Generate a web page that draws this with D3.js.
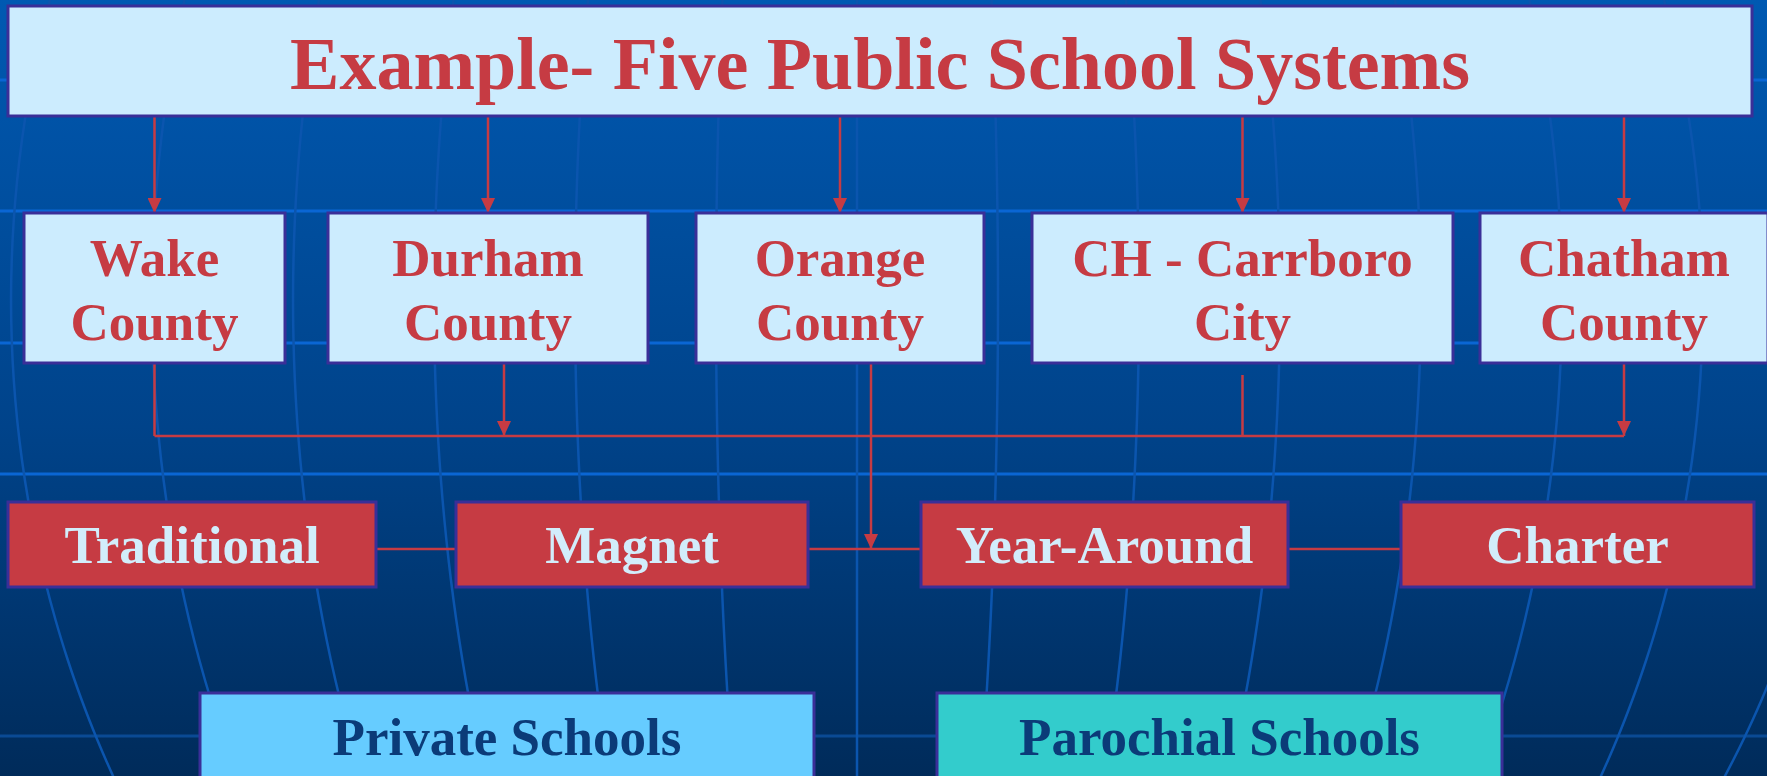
<!DOCTYPE html>
<html lang="en">
<head>
<meta charset="UTF-8">
<title>Example- Five Public School Systems</title>
<script src="https://d3js.org/d3.v7.min.js"></script>
<style>
  html, body { margin: 0; padding: 0; overflow: hidden; background: #00458a; }
  svg { display: block; }
  text { font-family: "Liberation Serif", "Times New Roman", serif; font-weight: bold; }
</style>
</head>
<body>
<div id="chart"></div>
<script>
// ---- data ----
const title = "Example- Five Public School Systems";
const counties = ["Wake", "Durham", "Orange", "CH - Carrboro", "Chatham"];
const countySecondLine = ["County", "County", "County", "City", "County"];
const schoolTypes = ["Traditional", "Magnet", "Year-Around", "Charter"];
const otherSchools = ["Private Schools", "Parochial Schools"];
// which counties feed the bus with an arrowhead, and which one drops to the school row
const busArrow = [false, true, false, false, true];
const dropsToTypes = ["Orange"];

// ---- layout ----
const W = 1767, H = 776;
const red = "#c63b43", edge = "#3a2f98", pale = "#ccecfe", lightText = "#d2edfb", navy = "#0b3b78";

const svg = d3.select("#chart").append("svg").attr("width", W).attr("height", H);
const defs = svg.append("defs");

const bg = defs.append("linearGradient").attr("id", "bg").attr("x1", 0).attr("y1", 0).attr("x2", 0).attr("y2", 1);
bg.append("stop").attr("offset", "0%").attr("stop-color", "#0059b2");
bg.append("stop").attr("offset", "55%").attr("stop-color", "#00438a");
bg.append("stop").attr("offset", "100%").attr("stop-color", "#002b5a");
svg.append("rect").attr("width", W).attr("height", H).attr("fill", "url(#bg)");

// arrowhead drawn along +x so orient=auto turns it with the line
defs.append("marker").attr("id", "head")
  .attr("viewBox", "0 0 15 14").attr("refX", 15).attr("refY", 7)
  .attr("markerWidth", 15).attr("markerHeight", 14)
  .attr("markerUnits", "userSpaceOnUse").attr("orient", "auto")
  .append("path").attr("d", "M0,0 L15,7 L0,14 Z").attr("fill", red);

// background globe grid
const grid = svg.append("g");
[80, 211, 343, 474].forEach(y => grid.append("line")
  .attr("x1", 0).attr("x2", W).attr("y1", y).attr("y2", y)
  .attr("stroke", "#0a66d4").attr("stroke-width", 3));
grid.append("line").attr("x1", 0).attr("x2", W).attr("y1", 736).attr("y2", 736)
  .attr("stroke", "#0a4a94").attr("stroke-width", 3);
const meridian = d3.line().curve(d3.curveBasis);
d3.range(-6, 8).forEach(k => {
  const pts = d3.range(0, H + 20, 20).map(y => [857 + k * 141 * Math.sqrt(1 - Math.pow((y - 300) / 1000, 2)), y]);
  grid.append("path").attr("d", meridian(pts)).attr("fill", "none")
    .attr("stroke", "#0b55ae").attr("stroke-width", 2.5);
});

// scales for the boxes
const titleBox = {x0: 8, x1: 1752, y0: 6, y1: 116};
const countyY = d3.scaleOrdinal().domain(["top", "bottom"]).range([213, 363]);
const countyX0 = d3.scaleOrdinal().domain(counties).range([24, 328, 696, 1032, 1480]);
const countyX1 = d3.scaleOrdinal().domain(counties).range([285, 648, 984, 1453, 1768]);
const countyDrop = d3.scaleOrdinal().domain(counties).range([0, 16, 31, 0, 0]);
const countyDropStart = d3.scaleOrdinal().domain(counties).range([358, 363, 363, 375, 363]);
const typeX0 = d3.scaleOrdinal().domain(schoolTypes).range([8, 456, 921, 1401]);
const typeX1 = d3.scaleOrdinal().domain(schoolTypes).range([376, 808, 1288, 1754]);
const typeY = {y0: 502, y1: 587};
const otherX0 = d3.scaleOrdinal().domain(otherSchools).range([200, 937]);
const otherX1 = d3.scaleOrdinal().domain(otherSchools).range([814, 1502]);
const otherFill = d3.scaleOrdinal().domain(otherSchools).range(["#66ccff", "#33cccc"]);
const busY = 436, typeLineY = 549;
const cx = c => (countyX0(c) + countyX1(c)) / 2;

const links = svg.append("g").attr("stroke", red).attr("stroke-width", 2.5).attr("fill", "none");

// title to counties
counties.forEach(c => links.append("line")
  .attr("x1", cx(c)).attr("x2", cx(c)).attr("y1", titleBox.y1).attr("y2", countyY("top"))
  .attr("marker-end", "url(#head)"));

// counties to the bus / school row
counties.forEach((c, i) => {
  const x = cx(c) + countyDrop(c);
  const toTypes = dropsToTypes.includes(c);
  links.append("line").attr("x1", x).attr("x2", x)
    .attr("y1", countyDropStart(c)).attr("y2", toTypes ? typeLineY : busY)
    .attr("marker-end", (busArrow[i] || toTypes) ? "url(#head)" : null);
});
links.append("line").attr("x1", cx(counties[0])).attr("x2", cx(counties[counties.length - 1]))
  .attr("y1", busY).attr("y2", busY);
links.append("line").attr("x1", typeX1(schoolTypes[0])).attr("x2", typeX0(schoolTypes[schoolTypes.length - 1]))
  .attr("y1", typeLineY).attr("y2", typeLineY);

// title box
svg.append("rect").attr("x", titleBox.x0).attr("y", titleBox.y0)
  .attr("width", titleBox.x1 - titleBox.x0).attr("height", titleBox.y1 - titleBox.y0)
  .attr("fill", pale).attr("stroke", edge).attr("stroke-width", 3);
svg.append("text").attr("x", (titleBox.x0 + titleBox.x1) / 2).attr("y", 89)
  .attr("text-anchor", "middle").attr("font-size", 74).attr("fill", red).text(title);

// county boxes
const cg = svg.selectAll(".county").data(counties).join("g").attr("class", "county");
cg.append("rect").attr("x", d => countyX0(d)).attr("y", countyY("top"))
  .attr("width", d => countyX1(d) - countyX0(d)).attr("height", countyY("bottom") - countyY("top"))
  .attr("fill", pale).attr("stroke", edge).attr("stroke-width", 3);
cg.append("text").attr("x", d => cx(d)).attr("y", 276).attr("text-anchor", "middle")
  .attr("font-size", 53).attr("fill", red).text(d => d);
cg.append("text").attr("x", d => cx(d)).attr("y", 340).attr("text-anchor", "middle")
  .attr("font-size", 53).attr("fill", red).text((d, i) => countySecondLine[i]);

// school type boxes
const tg = svg.selectAll(".type").data(schoolTypes).join("g").attr("class", "type");
tg.append("rect").attr("x", d => typeX0(d)).attr("y", typeY.y0)
  .attr("width", d => typeX1(d) - typeX0(d)).attr("height", typeY.y1 - typeY.y0)
  .attr("fill", red).attr("stroke", edge).attr("stroke-width", 3);
tg.append("text").attr("x", d => (typeX0(d) + typeX1(d)) / 2).attr("y", 563)
  .attr("text-anchor", "middle").attr("font-size", 53).attr("fill", lightText).text(d => d);

// private / parochial
const og = svg.selectAll(".other").data(otherSchools).join("g").attr("class", "other");
og.append("rect").attr("x", d => otherX0(d)).attr("y", 693)
  .attr("width", d => otherX1(d) - otherX0(d)).attr("height", 120)
  .attr("fill", d => otherFill(d)).attr("stroke", edge).attr("stroke-width", 3);
og.append("text").attr("x", d => (otherX0(d) + otherX1(d)) / 2).attr("y", 755)
  .attr("text-anchor", "middle").attr("font-size", 53).attr("fill", navy).text(d => d);
</script>
</body>
</html>
